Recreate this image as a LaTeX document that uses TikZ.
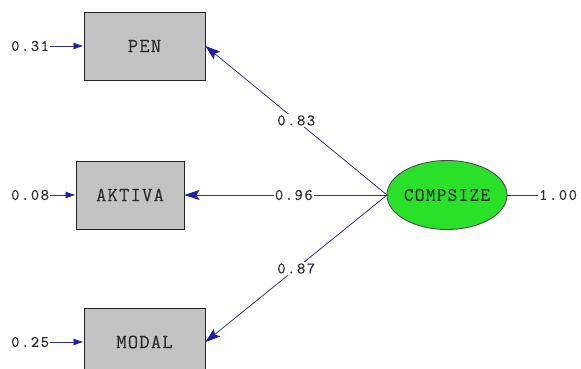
\documentclass[tikz,border=0pt]{standalone}
\usepackage{fontspec}
\newfontfamily\numfont{Latin Modern Mono}[LetterSpace=10,FakeBold=0.3]
\newfontfamily\boxfont{Latin Modern Mono}[LetterSpace=6,FakeBold=0.2]
\usetikzlibrary{arrows.meta,shapes.geometric}
\definecolor{linecol}{RGB}{50,50,140}
\definecolor{tipcol}{RGB}{30,30,170}
\definecolor{boxfill}{RGB}{195,195,195}
\definecolor{ellfill}{RGB}{40,225,40}
\definecolor{txtcol}{RGB}{45,45,45}
\begin{document}
\begin{tikzpicture}[x=1pt,y=-1pt,
  obsbox/.style={draw=txtcol!80!black,line width=0.9pt,fill=boxfill,minimum height=68pt,inner sep=0pt,
    font=\boxfont\fontsize{20}{20}\selectfont,text=txtcol},
  latent/.style={ellipse,draw=black!70,line width=0.9pt,fill=ellfill,minimum width=120pt,minimum height=69pt,inner xsep=-25pt,inner ysep=0pt,
    font=\boxfont\fontsize{19}{19}\selectfont,text=txtcol},
  numlab/.style={font=\numfont\fontsize{16}{16}\selectfont,text=txtcol,inner sep=1pt},
  path/.style={draw=linecol,line width=0.8pt},
  tipped/.style={path,-{Stealth[length=15pt,width=10pt,inset=3pt,fill=tipcol,color=tipcol]}},
  errarr/.style={path,-{Latex[length=10pt,width=7pt,fill=tipcol,color=tipcol]}}
]
\useasboundingbox (0,0) rectangle (581,368);
\clip (0,0) rectangle (581,368);
\fill[white] (0,0) rectangle (581,368);

\node[obsbox,minimum width=121pt] (pen) at (144.5,46) {PEN};
\node[obsbox,minimum width=108pt] (aktiva) at (130,195) {AKTIVA};
\node[obsbox,minimum width=121pt] (modal) at (144.5,342) {MODAL};
\node[latent] (comp) at (447,195) {COMPSIZE};

\node[numlab,anchor=west] (e1) at (10,46) {0.31};
\node[numlab,anchor=west] (e2) at (10,195) {0.08};
\node[numlab,anchor=west] (e3) at (10,342) {0.25};
\node[numlab,anchor=west] (v1) at (538,195) {1.00};

\draw[errarr] (e1.east) -- (pen.west);
\draw[errarr] (e2.east) -- (aktiva.west);
\draw[errarr] (e3.east) -- (modal.west);
\draw[path] (comp.east) -- (v1.west);

\coordinate (cw) at (387,195);
\draw[tipped] (cw) -- node[numlab,fill=white,pos=0.5] (l1) {0.83} (pen.east);
\draw[tipped] (cw) -- node[numlab,fill=white,pos=0.46] (l2) {0.96} (aktiva.east);
\draw[tipped] (cw) -- node[numlab,fill=white,pos=0.5] (l3) {0.87} (modal.east);
\end{tikzpicture}
\end{document}
